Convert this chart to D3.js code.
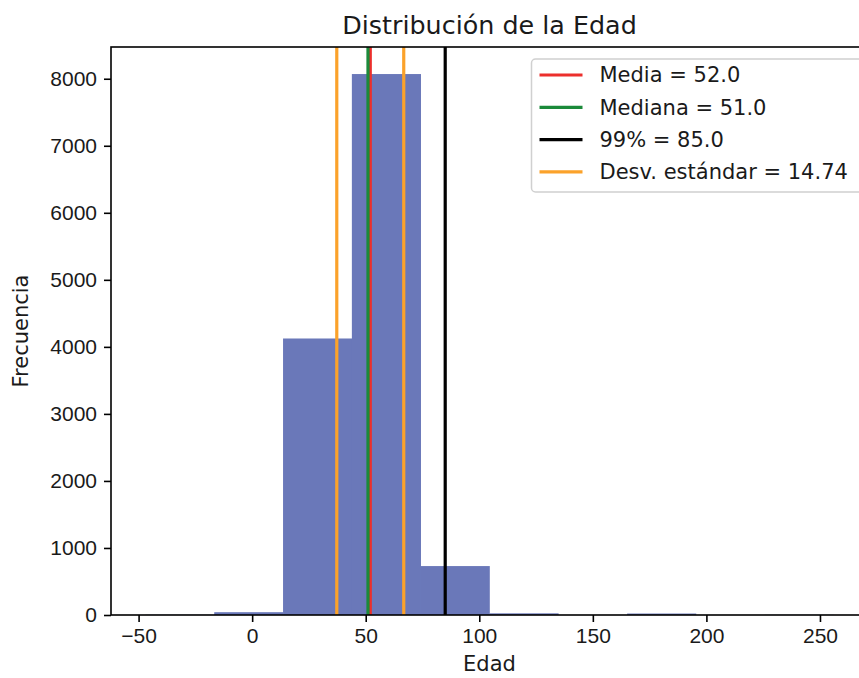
<!DOCTYPE html>
<html>
<head>
<meta charset="utf-8">
<script src="https://cdn.jsdelivr.net/npm/d3@7"></script>
<style>
    body { margin: 0; background: #fff; }
    svg { display: block; font-family: 'DejaVu Sans', sans-serif; }
</style>
</head>
<body>
<svg id="chart"></svg>
<script>
// histogram bins (edges) and counts
const binEdges = [-47, -16.7, 13.6, 43.9, 74.2, 104.5, 134.8, 165.1, 195.4, 225.7, 256];
const counts = [3, 42, 4125, 8070, 730, 25, 0, 22, 0, 2];

const xTicks = [-50, 0, 50, 100, 150, 200, 250];
const yTicks = [0, 1000, 2000, 3000, 4000, 5000, 6000, 7000, 8000];

const statNames = ['Media = 52.0', 'Mediana = 51.0', '99% = 85.0', 'Desv. estándar = 14.74'];
const statValues = [52.0, 51.0, 85.0, 14.74];
const statColors = ['#ec2f2c', '#1b8a3a', '#000000', '#fba22a'];

const width = 859;
const height = 678;
const plot = { left: 111, right: 868, top: 47, bottom: 615 };
const fontSize = 21;
const textColor = '#1a1a1a';

const svg = d3.select('#chart')
    .attr('width', width)
    .attr('height', height);

const span = binEdges[binEdges.length - 1] - binEdges[0];
const x = d3.scaleLinear()
    .domain([binEdges[0] - span * 0.05, binEdges[binEdges.length - 1] + span * 0.05])
    .range([plot.left, plot.right]);

const y = d3.scaleLinear()
    .domain([0, d3.max(counts) * 1.05])
    .range([plot.bottom, plot.top]);

const bins = counts.map((c, i) => ({ x0: binEdges[i], x1: binEdges[i + 1], count: c }));

svg.append('g')
    .attr('class', 'bars')
    .selectAll('rect')
    .data(bins)
    .join('rect')
    .attr('x', d => x(d.x0))
    .attr('y', d => y(d.count))
    .attr('width', d => x(d.x1) - x(d.x0) + 0.3)
    .attr('height', d => y(0) - y(d.count))
    .attr('fill', '#6a78b9');

// mean, median, 99% and mean +/- std lines
const mean = statValues[0];
const std = statValues[3];
const lines = [
    { v: statValues[0], color: statColors[0] },
    { v: statValues[1], color: statColors[1] },
    { v: statValues[2], color: statColors[2] },
    { v: mean - std, color: statColors[3] },
    { v: mean + std, color: statColors[3] },
];

svg.append('g')
    .attr('class', 'vlines')
    .selectAll('line')
    .data(lines)
    .join('line')
    .attr('x1', d => x(d.v))
    .attr('x2', d => x(d.v))
    .attr('y1', plot.top)
    .attr('y2', plot.bottom)
    .attr('stroke', d => d.color)
    .attr('stroke-width', 3.2);

// axes
const xAxis = d3.axisBottom(x)
    .tickValues(xTicks)
    .tickFormat(d => d < 0 ? `\u2212${Math.abs(d)}` : `${d}`)
    .tickSize(7)
    .tickPadding(6);

const yAxis = d3.axisLeft(y)
    .tickValues(yTicks)
    .tickFormat(d3.format('d'))
    .tickSize(7)
    .tickPadding(7);

const gx = svg.append('g')
    .attr('transform', `translate(0,${plot.bottom})`)
    .call(xAxis);

const gy = svg.append('g')
    .attr('transform', `translate(${plot.left},0)`)
    .call(yAxis);

[gx, gy].forEach(g => {
    g.select('.domain').remove();
    g.selectAll('.tick line').attr('stroke', '#000').attr('stroke-width', 1.6);
    g.selectAll('.tick text')
        .attr('fill', textColor)
        .style('font-size', `${fontSize}px`);
});

// frame
svg.append('rect')
    .attr('x', plot.left)
    .attr('y', plot.top)
    .attr('width', plot.right - plot.left)
    .attr('height', plot.bottom - plot.top)
    .attr('fill', 'none')
    .attr('stroke', '#000')
    .attr('stroke-width', 1.6);

// labels
svg.append('text')
    .attr('x', (plot.left + plot.right) / 2)
    .attr('y', 34)
    .attr('text-anchor', 'middle')
    .style('font-size', '25.4px')
    .attr('fill', textColor)
    .text('Distribución de la Edad');

svg.append('text')
    .attr('x', (plot.left + plot.right) / 2)
    .attr('y', 671)
    .attr('text-anchor', 'middle')
    .style('font-size', `${fontSize}px`)
    .attr('fill', textColor)
    .text('Edad');

svg.append('text')
    .attr('transform', `translate(28,${(plot.top + plot.bottom) / 2}) rotate(-90)`)
    .attr('text-anchor', 'middle')
    .style('font-size', `${fontSize}px`)
    .attr('fill', textColor)
    .text('Frecuencia');

// legend
const legend = svg.append('g')
    .attr('class', 'legend')
    .attr('transform', 'translate(531.5,59)');

legend.append('rect')
    .attr('width', 345)
    .attr('height', 133)
    .attr('rx', 4)
    .attr('fill', '#fff')
    .attr('fill-opacity', 0.8)
    .attr('stroke', '#d0d0d0')
    .attr('stroke-width', 1.5);

const item = legend.selectAll('.item')
    .data(statNames)
    .join('g')
    .attr('class', 'item')
    .attr('transform', (d, i) => `translate(0,${16 + i * 32.3})`);

item.append('line')
    .attr('x1', 8)
    .attr('x2', 51)
    .attr('stroke', (d, i) => statColors[i])
    .attr('stroke-width', 3.2);

item.append('text')
    .attr('x', 68)
    .attr('dy', '0.35em')
    .style('font-size', `${fontSize}px`)
    .attr('fill', textColor)
    .text(d => d);
</script>
</body>
</html>
